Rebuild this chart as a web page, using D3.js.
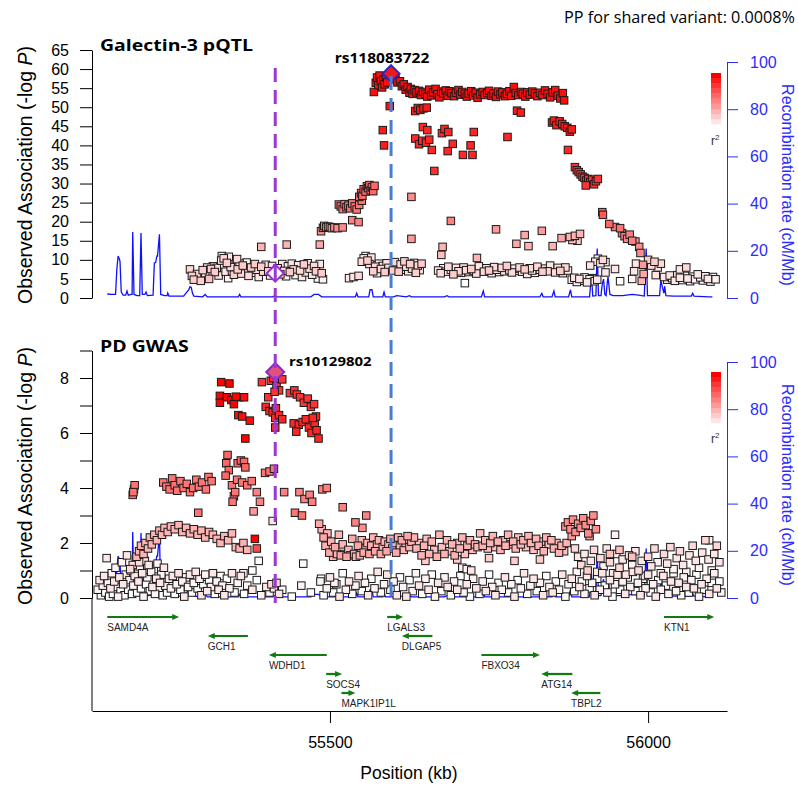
<!DOCTYPE html>
<html><head><meta charset="utf-8">
<script src="https://cdn.jsdelivr.net/npm/d3@7"></script>
<style>body{margin:0;background:#fff} svg{display:block}</style>
</head><body>
<svg id="c" width="798" height="787"></svg>
<script>
// ---------- data ----------
const xDomain = [55126, 56124];
const xTicks = [55500, 56000];
const pqtlTicks = [0,5,10,15,20,25,30,35,40,45,50,55,60,65];
const gwasTicks = [0,1,2,3,4,5,6,7,8,9];
const gwasTickLabels = [0,2,4,6,8];
const recTicks = [0,20,40,60,80,100];
const legendSteps = [0.1,0.2,0.3,0.4,0.5,0.6,0.7,0.8,0.9,1.0];

const pqtlTitle = "Galectin-3 pQTL";
const gwasTitle = "PD GWAS";
const ppText = "PP for shared variant: 0.0008%";
const pqtlLead = {name:"rs118083722", pos:55596, logp:58.8};
const gwasLead = {name:"rs10129802", pos:55414, logp:8.22};
const gwasLeadInPqtl = 6.5;

// recombination rate [kb, cM/Mb]
const recomb = [[55150,1.7],[55157,1.5],[55163,1.5],[55165,12],[55167,17.8],[55169,16.5],[55170,15.5],[55172,2.5],[55175,1.2],[55179,1.2],[55181,3],[55183,1.2],[55188,1.5],[55189,1.5],[55190,28],[55192,1.5],[55197,1],[55201,1],[55203,27.5],[55205,1.5],[55209,1.5],[55211,2.5],[55213,1],[55222,1.2],[55224,14.8],[55226,15],[55228,17.8],[55229,17.8],[55232,27],[55234,1.5],[55240,1],[55244,1],[55245,2.1],[55247,0.8],[55270,0.8],[55275,2.5],[55278,3.4],[55280,4.8],[55282,4.5],[55284,2],[55286,0.8],[55300,0.5],[55304,1.5],[55307,0.5],[55356,0.5],[55358,1.5],[55360,0.5],[55410,0.5],[55413,1],[55416,0.5],[55470,0.5],[55475,1.5],[55482,1.5],[55487,0.5],[55540,0.5],[55542,2],[55544,0.5],[55561,0.5],[55563,3.5],[55566,3.5],[55568,0.5],[55583,0.5],[55585,2.5],[55587,0.5],[55600,0.5],[55605,1],[55620,0.5],[55625,1],[55628,0.5],[55680,0.5],[55684,1],[55687,0.5],[55738,0.5],[55741,3],[55743,0.5],[55830,0.5],[55833,2],[55835,0.5],[55849,0.5],[55852,3],[55854,0.5],[55875,0.5],[55878,3.5],[55880,0.5],[55908,0.5],[55911,10],[55913,0.8],[55918,1],[55920,21],[55922,1],[55926,1],[55928,6],[55930,8],[55932,1.5],[55934,1],[55936,7],[55937,9],[55940,1.5],[55945,1],[55960,1],[55975,1.5],[55985,1.2],[55994,0.8],[55996,15],[55997,21],[55999,1],[56005,1],[56018,1],[56020,7.5],[56023,4],[56025,2],[56026,5],[56028,1],[56040,0.8],[56068,0.8],[56070,2],[56072,0.8],[56095,0.5],[56101,0.5]];

// Galectin-3 pQTL points [kb, -log10 P, r2]
const pqtlPoints = [
[55280,7.5,.15],[55283,5.8,.2],[55286,4.8,.2],[55291,6.3,.15],[55294,5.2,.1],[55297,4.5,.2],[55300,7.3,.2],[55304,6.5,.1],[55307,8.0,.15],[55310,5.0,.25],[55313,7.6,.2],[55316,8.3,.1],[55319,6.8,.2],[55322,7.9,.15],[55325,5.9,.1],[55329,9.8,.15],[55330,11.0,.1],[55332,8.6,.05],[55333,10.4,.15],[55336,6.9,.1],[55338,9.2,.2],[55340,5.2,.05],[55341,10.8,.1],[55344,8.1,.15],[55346,7.0,.1],[55347,9.9,.05],[55349,6.1,.2],[55352,8.8,.1],[55354,10.2,.15],[55355,7.5,.2],[55358,9.0,.1],[55360,6.4,.15],[55363,8.5,.2],[55366,7.2,.1],[55369,9.3,.05],[55372,5.8,.15],[55376,8.0,.2],[55379,6.6,.1],[55382,8.9,.2],[55385,7.4,.15],[55388,5.5,.1],[55392,8.2,.2],[55395,6.9,.15],[55399,8.7,.1],[55403,7.0,.2],[55406,5.9,.05],[55409,8.4,.1],[55418,7.8,.15],[55422,6.2,.2],[55425,8.9,.1],[55428,7.1,.15],[55431,5.7,.05],[55434,8.3,.1],[55437,6.8,.2],[55440,9.0,.1],[55443,7.5,.15],[55446,6.0,.05],[55450,8.6,.1],[55453,7.2,.15],[55456,5.5,.1],[55459,8.8,.2],[55462,6.7,.1],[55465,9.1,.05],[55468,7.7,.15],[55472,6.1,.1],[55475,8.4,.15],[55478,7.0,.2],[55481,5.1,.05],[55484,8.9,.1],[55487,6.5,.2],[55489,4.9,.05],
[55392,13.4,.3],[55432,14,.3],[55484,14,.35],
[55486,17.5,.45],[55489,18.4,.45],[55491,18.9,.45],[55494,18.5,.45],[55497,18.7,.45],[55500,18.6,.45],[55503,18.3,.45],[55507,18.5,.45],[55512,18.3,.45],[55520,18.5,.45],[55535,20.4,.5],[55545,19.9,.5],
[55514,24.5,.55],[55517,24.0,.55],[55520,23.3,.55],[55523,24.6,.55],[55526,23.8,.55],[55529,24.2,.55],[55532,23.5,.55],[55535,24.8,.55],[55539,24.0,.55],[55542,23.2,.55],[55546,24.4,.55],[55550,25.5,.55],
[55546,26.5,.6],[55549,27.5,.6],[55551,26.8,.6],[55553,28.5,.6],[55556,27.9,.6],[55558,29.3,.6],[55560,28.8,.6],[55562,29.6,.6],[55564,28.2,.6],[55566,29.0,.6],[55568,28.0,.6],[55570,29.4,.6],
[55569,54.0,.95],[55572,56.4,.95],[55574,57.8,.95],[55576,55.8,.95],[55578,58.3,.95],[55580,56.8,.95],[55582,55.2,.95],[55584,57.2,.95],[55586,56.0,.95],[55588,58.0,.95],[55590,56.5,.95],[55594,50.3,.95],[55583,44.0,.9],[55585,40.0,.9],
[55603,57.3,.95],[55606,56.5,.95],[55610,56.8,.95],[55613,55.5,.95],[55616,56.0,.95],[55619,54.6,.95],[55622,55.3,.95],[55625,53.8,.95],[55627,54.8,.95],[55630,53.5,.95],[55633,54.5,.95],[55636,53.9,.95],[55640,54.3,.95],[55643,53.2,.95],[55646,54.0,.95],[55650,53.5,.95],[55653,52.8,.95],[55656,54.6,.95],[55659,53.1,.95],[55662,53.9,.95],[55666,54.8,.95],[55669,53.4,.95],[55672,52.6,.95],[55675,54.1,.95],[55678,53.6,.95],[55682,54.4,.95],[55685,53.0,.95],[55688,54.2,.95],[55691,53.7,.95],[55695,52.9,.95],[55698,53.8,.95],[55702,54.5,.95],[55705,53.3,.95],[55708,54.0,.95],[55712,53.5,.95],[55715,52.8,.95],[55718,53.6,.95],[55722,54.2,.95],[55725,53.1,.95],[55729,53.8,.95],[55732,52.5,.95],[55736,53.4,.95],[55740,54.0,.95],[55743,53.2,.95],[55747,53.7,.95],[55750,54.3,.95],[55754,53.0,.95],[55757,53.6,.95],[55761,52.7,.95],[55764,54.1,.95],[55768,53.4,.95],[55771,53.9,.95],[55775,52.9,.95],[55778,53.5,.95],[55782,54.2,.95],[55785,53.0,.95],[55789,55.3,.95],[55792,53.7,.95],[55796,53.2,.95],[55800,54.0,.95],[55803,53.5,.95],[55807,52.8,.95],[55810,53.9,.95],[55814,53.3,.95],[55818,54.1,.95],[55822,53.6,.95],[55826,52.9,.95],[55830,53.8,.95],[55834,53.2,.95],[55838,54.4,.95],[55842,53.5,.95],[55846,52.6,.95],[55850,53.9,.95],[55854,54.5,.95],[55858,53.0,.95],[55862,52.3,.95],[55866,53.7,.95],[55868,51.8,.95],
[55634,49.0,.9],[55638,49.8,.9],[55642,49.3,.9],[55647,49.7,.9],[55652,49.9,.9],[55794,49.1,.9],[55800,48.6,.9],
[55849,46.0,.9],[55852,46.5,.9],[55856,45.3,.9],[55861,46.3,.9],[55865,45.6,.9],[55869,45.0,.9],[55873,44.6,.9],[55877,43.6,.9],[55880,44.2,.9],[55874,38.8,.85],
[55646,44.8,.85],[55653,44.0,.85],[55634,41.8,.85],[55640,40.3,.85],[55645,41.2,.85],[55651,40.7,.85],[55656,41.5,.85],[55660,38.8,.85],[55676,43.2,.85],[55680,44.3,.85],[55686,43.5,.85],[55693,40.4,.85],[55685,38.5,.85],[55709,37.5,.85],[55721,40.0,.85],[55726,43.5,.85],[55724,37.5,.85],[55779,42.2,.85],[55664,33.3,.8],
[55885,34.3,.8],[55888,33.5,.8],[55891,33.0,.8],[55894,32.4,.8],[55897,31.8,.8],[55900,31.5,.8],[55903,30.8,.8],[55906,31.2,.8],[55909,30.4,.8],[55912,31.0,.8],[55915,29.8,.8],[55918,30.6,.8],[55921,31.2,.8],[55902,29.5,.8],
[55628,26.5,.45],[55690,20.2,.5],[55761,18.0,.4],[55833,17.6,.4],[55628,15.5,.4],[55677,13.4,.3],[55675,11.3,.25],[55731,10.5,.3],[55793,14.2,.35],[55806,16.5,.35],[55812,13.6,.3],[55850,13.6,.3],[55864,15.7,.35],[55877,16.0,.3],[55881,15.2,.25],[55885,16.3,.3],[55889,15.0,.2],[55893,16.8,.3],
[55928,22.5,.65],[55929,21.8,.65],[55939,19.4,.6],[55948,18.6,.55],[55956,18.3,.55],[55959,17.0,.5],[55963,16.2,.5],[55967,15.5,.5],[55971,16.6,.5],[55975,15.0,.5],[55980,14.8,.45],[55986,13.4,.45],[55988,11.8,.45],[55992,8.7,.4],[55993,6.3,.35],[55990,4.5,.3],
[56000,10.0,.2],[56005,8.5,.15],[56010,9.5,.2],[56015,8.0,.1],[56020,9.0,.15],[56012,6.0,.1],
[55530,5.2,.1],[55537,5.5,.1],[55545,5.8,.15],[55550,9.5,.15],[55553,10.4,.1],[55556,11.0,.05],[55559,9.8,.2],[55562,8.9,.15],[55565,10.6,.1],[55568,7.0,.2],[55571,8.2,.15],[55574,6.5,.1],[55577,9.0,.05],[55580,7.6,.15],[55583,8.4,.1],[55586,6.8,.2],[55589,9.1,.1],[55592,7.9,.15],[55595,8.6,.05],[55599,7.2,.2],[55602,9.4,.15],[55605,8.0,.1],[55608,6.9,.2],[55611,8.8,.15],[55614,7.4,.1],[55617,9.6,.2],[55620,8.2,.15],[55623,7.0,.1],[55626,8.9,.2],[55629,7.7,.15],[55632,9.2,.1],[55635,6.6,.2],[55638,8.5,.15],[55641,7.3,.1],[55644,9.0,.2],
[55670,7.2,.1],[55674,6.5,.15],[55678,7.8,.05],[55682,6.9,.1],[55686,8.2,.15],[55690,7.4,.1],[55694,6.2,.2],[55698,7.9,.1],[55702,7.0,.15],[55706,6.6,.05],[55710,8.0,.1],[55714,7.3,.15],[55718,6.8,.1],[55722,7.6,.2],[55726,7.1,.1],[55730,6.4,.15],[55734,8.3,.1],[55738,7.5,.05],[55742,6.9,.15],[55746,7.8,.1],[55750,7.2,.2],[55754,6.5,.1],[55758,8.1,.15],[55762,7.4,.1],[55766,6.8,.05],[55770,7.9,.15],[55774,7.0,.1],[55778,8.4,.2],[55782,7.3,.1],[55786,6.7,.15],[55790,7.7,.1],[55794,7.1,.05],[55798,8.0,.15],[55802,6.9,.1],[55806,7.5,.2],[55810,6.3,.1],[55814,7.8,.15],[55818,7.2,.1],[55822,6.6,.05],[55826,8.2,.15],[55830,7.4,.1],[55834,6.9,.2],[55838,7.7,.1],[55842,7.0,.15],[55846,8.5,.1],[55850,7.3,.05],[55854,6.7,.15],[55858,7.9,.1],[55862,7.1,.2],[55866,6.5,.1],[55870,8.0,.15],[55874,7.2,.1],[55712,3.9,0],
[55880,4.8,.05],[55884,5.3,.1],[55888,4.2,.05],[55892,5.0,.1],[55896,4.5,0],[55900,5.4,.05],[55904,4.1,.1],[55908,4.9,.05],[55912,5.2,0],[55916,4.4,.05],[55920,4.8,.1],
[55917,9.5,.1],[55921,10.3,.05],[55925,9.1,.1],[55929,10.0,.15],[55933,9.4,.05],[55909,8.5,.1],[55933,6.7,.1],[55948,7.6,.1],[55956,4.4,0],[55975,5.0,.05],[55978,7.0,.1],[55981,9.0,.1],
[56025,5.5,.1],[56030,4.8,.05],[56034,5.9,.1],[56038,5.2,.05],[56042,4.5,.1],[56046,6.0,.05],[56050,5.3,.1],[56054,4.7,0],[56058,5.8,.05],[56062,5.1,.1],[56066,4.4,.05],[56070,5.6,0],[56074,4.9,.05],[56078,6.2,.1],[56082,5.4,.05],[56086,4.6,0],[56090,5.7,.05],[56094,5.0,.1],[56098,4.3,.05],[56102,5.5,0],[56106,4.9,.05],[56050,7.5,.1],[56060,8.0,.15]
];

// PD GWAS points [kb, -log10 P, r2]
const gwasPoints = [
[55329,7.85,1],[55342,7.8,1],[55327,7.35,1],[55327,7.1,1],[55338,7.3,1],[55345,7.2,1],[55349,7.05,1],[55352,7.32,1],[55358,7.3,.95],[55365,7.3,.95],[55356,6.65,.95],[55362,6.6,.95],[55374,6.45,.95],[55367,5.8,1],
[55393,7.85,.8],[55403,7.3,.8],[55407,7.9,.8],[55411,8.0,.8],[55416,7.7,.8],[55420,7.55,.8],[55425,7.95,.8],[55413,7.5,.8],
[55399,6.95,.85],[55405,6.8,.85],[55410,6.75,.85],[55415,6.9,.85],[55414,6.55,.85],[55420,6.65,.85],[55425,6.5,.85],[55414,6.2,.85],
[55437,7.45,.8],[55444,7.55,.8],[55448,7.4,.8],[55453,7.3,.8],[55459,7.1,.8],[55465,7.25,.8],[55470,6.95,.8],[55475,7.05,.8],
[55443,6.35,.85],[55451,6.3,.85],[55457,6.4,.85],[55447,6.05,.85],[55462,6.5,.85],[55467,6.2,.85],[55471,6.0,.85],[55476,6.35,.85],[55479,6.1,.85],[55482,5.8,.85],[55478,6.6,.85],[55473,6.55,.85],
[55190,3.75,.55],[55192,3.95,.55],[55193,4.1,.55],[55191,3.85,.55],
[55238,4.2,.55],[55243,4.05,.55],[55248,3.95,.55],[55252,4.35,.55],[55256,4.1,.55],[55260,3.9,.55],[55265,4.25,.55],[55270,4.0,.55],[55275,4.15,.55],[55280,3.85,.55],[55285,4.0,.55],[55290,4.3,.55],[55294,4.05,.55],[55299,4.2,.55],[55305,3.95,.55],[55309,4.4,.55],[55314,4.25,.55],
[55337,4.9,.6],[55339,5.2,.6],[55341,4.65,.6],[55336,4.45,.6],[55346,4.1,.55],[55349,3.7,.55],[55347,3.5,.55],[55351,3.85,.55],
[55355,4.9,.6],[55360,5.0,.6],[55365,4.95,.6],[55367,4.75,.6],[55354,4.3,.55],[55362,4.2,.55],[55370,4.1,.55],[55377,4.25,.55],
[55385,3.85,.5],[55390,3.5,.5],[55398,4.55,.55],[55405,4.6,.55],[55412,4.7,.55],
[55428,3.85,.5],[55452,3.85,.5],[55460,3.6,.5],[55468,3.75,.5],[55472,3.5,.5],[55488,3.95,.5],[55495,4.0,.5],
[55520,3.3,.5],[55445,3.1,.55],[55456,3.0,.55],[55380,3.15,.4],[55293,3.1,.55],[55410,2.8,.1],[55557,3.0,.5],[55540,2.75,.5],[55551,2.55,.45],
[55382,2.15,1],[55385,1.8,.7],
[55196,1.5,.3],[55200,1.7,.3],[55203,1.9,.3],[55207,1.6,.3],[55210,2.0,.3],[55214,1.8,.3],[55217,2.2,.3],[55220,1.95,.3],[55224,2.3,.3],[55228,2.1,.3],[55232,2.45,.3],[55236,2.3,.3],[55240,2.55,.3],[55245,2.4,.3],[55250,2.6,.3],[55256,2.5,.3],[55262,2.65,.3],[55268,2.4,.3],[55274,2.55,.3],[55280,2.35,.3],[55286,2.5,.3],[55292,2.3,.3],[55298,2.45,.3],[55304,2.2,.3],[55310,2.4,.3],[55316,2.3,.3],[55322,2.15,.3],[55328,2.0,.3],[55334,2.25,.3],[55340,2.1,.3],[55346,2.35,.3],[55352,1.85,.3],[55358,1.8,.3],[55364,2.0,.3],[55370,1.75,.3],
[55190,1.2,.15],[55186,1.05,.15],[55200,1.3,.15],
[55483,2.7,.35],[55487,2.5,.3],[55490,2.2,.35],[55493,1.9,.3],[55496,2.35,.3],[55499,1.65,.35],[55502,2.05,.3],[55505,1.5,.3],[55508,1.85,.35],[55511,1.6,.3],[55514,2.3,.3],[55517,1.55,.35],[55520,1.95,.3],[55523,1.6,.3],[55526,1.5,.35],[55529,1.75,.3],[55532,1.55,.3],[55535,2.15,.35],[55538,1.6,.3],[55541,1.5,.3],[55544,1.9,.35],[55547,1.55,.3],[55550,2.1,.3],[55553,1.65,.35],[55556,1.8,.3],[55559,2.0,.3],[55562,1.6,.35],[55565,1.9,.3],[55568,2.2,.3],[55571,1.7,.35],[55574,1.95,.3],[55577,2.1,.3],[55580,1.6,.35],[55583,1.85,.3],[55586,2.05,.3],[55589,1.7,.35],[55592,1.95,.3],[55595,2.15,.35],[55598,1.8,.3],[55601,2.0,.3],[55604,1.65,.35],[55607,2.2,.3],[55610,1.9,.3],[55613,2.1,.35],[55616,1.75,.3],[55619,2.0,.3],[55622,2.25,.35],[55625,1.85,.3],[55628,2.05,.3],
[55632,2.2,.3],[55636,1.8,.3],[55640,2.0,.25],[55644,1.55,.3],[55648,1.9,.3],[55652,2.15,.25],[55656,1.6,.3],[55660,2.05,.3],[55664,1.75,.25],[55668,1.5,.3],[55672,2.3,.3],[55676,1.85,.25],[55680,1.6,.3],[55684,2.1,.3],[55688,1.7,.25],[55692,1.95,.3],[55696,1.55,.3],[55700,2.0,.25],[55704,1.8,.3],[55708,2.2,.3],[55712,1.6,.25],[55716,1.9,.3],[55720,2.1,.3],[55724,1.75,.25],[55728,1.95,.3],[55732,1.85,.3],[55736,2.35,.25],[55740,1.9,.3],[55744,2.1,.3],[55748,1.8,.25],[55752,2.0,.3],[55756,2.25,.3],[55760,1.85,.25],[55764,2.05,.3],[55768,1.75,.3],[55772,2.1,.25],[55776,1.9,.3],[55780,2.3,.3],[55784,1.95,.25],[55788,2.05,.3],[55792,1.8,.3],[55796,2.2,.25],[55800,1.95,.3],[55804,2.1,.3],[55808,1.85,.25],[55812,2.25,.3],[55816,2.0,.3],[55820,1.75,.25],[55824,2.15,.3],[55828,1.9,.3],[55832,2.05,.25],[55836,1.7,.3],[55840,2.2,.3],[55844,1.95,.25],[55848,2.1,.3],[55852,1.8,.3],[55856,2.0,.25],[55860,1.65,.3],[55864,1.9,.3],[55868,1.7,.25],[55872,2.0,.3],
[55650,1.35,.2],[55700,1.4,.2],[55750,1.45,.2],[55790,1.35,.2],[55830,1.4,.2],[55708,1.1,.05],[55715,1.05,.05],[55722,1.0,.1],
[55870,2.6,.45],[55874,2.75,.45],[55878,2.5,.45],[55882,2.85,.45],[55886,2.4,.45],[55890,2.7,.45],[55894,2.55,.45],[55898,2.9,.45],[55902,2.65,.45],[55906,2.35,.45],[55910,2.8,.45],[55914,3.0,.45],[55918,2.5,.45],[55880,2.25,.4],[55908,2.25,.4],
[55885,1.8,.15],[55890,1.5,.1],[55895,1.2,.15],[55900,1.6,.1],[55905,1.0,.2],[55910,1.35,.1],[55915,1.75,.15],[55920,0.95,.1],[55925,1.45,.15],[55930,1.15,.05],[55935,1.8,.1],[55940,1.3,.15],[55945,0.9,.1],[55950,1.6,.05],[55955,1.1,.15],[55960,1.4,.1],[55965,0.85,.1],[55970,1.55,.15],[55975,1.2,.05],[55980,1.7,.1],[55985,1.0,.15],[55990,1.35,.1],[55995,0.8,.05],[56000,1.5,.15],[56005,1.15,.1],[56010,1.8,.15],[56015,1.3,.05],[56020,0.9,.1],[56025,1.6,.15],[56030,1.25,.1],[56035,1.85,.15],[56040,1.05,.05],[56045,1.45,.1],[56050,1.7,.15],[56055,1.2,.1],[56060,0.95,.05],[56065,1.55,.1],[56070,1.9,.15],[56075,1.35,.1],[56080,1.1,.05],[56085,1.65,.1],[56090,2.1,.15],[56095,1.4,.1],[56100,1.0,.05],[56104,1.6,.1],[56108,1.9,.15],[56112,1.3,.1],
[55948,2.3,.05],[56096,2.1,.05],[55940,1.6,.25],[55955,1.75,.25],[55975,1.5,.25],
[55135,0.3,.05],[55138,0.65,.1],[55140,0.1,0],[55143,0.45,.05],[55145,0.8,.1],[55147,0.2,0],[55149,1.45,.1],[55151,0.55,.05],[55153,0.05,0],[55155,0.35,.1],[55157,0.9,.05],[55159,0.15,0],[55161,0.6,.1],[55163,1.1,.05],[55165,0.4,0],[55167,0.05,.05],[55169,0.75,.1],[55171,0.25,0],[55173,1.3,.05],[55175,0.5,.1],[55177,0.1,0],[55179,0.85,.05],[55181,1.55,.1],[55183,0.3,0],[55185,0.65,.05],[55187,1.0,.1],[55189,0.15,0],[55191,0.45,.05],[55193,0.8,.1],[55195,1.4,.05],[55197,0.2,0],[55199,0.6,.1],[55201,1.15,.05],[55203,0.35,0],[55205,0.9,.1],[55207,0.05,.05],[55209,1.35,.1],[55211,0.5,0],[55213,0.75,.05],[55215,1.2,.1],[55217,0.25,0],[55219,0.95,.05],[55221,0.4,.1],[55223,1.05,0],[55225,0.15,.05],[55227,0.7,.1],[55229,1.25,.05],[55231,0.3,0],[55233,0.55,.1],[55235,0.85,.05],[55237,0.1,0],[55239,1.1,.1],[55241,0.45,.05],[55244,0.2,0],[55247,0.7,.1],[55250,0.35,.05],
[55253,0.8,.1],[55256,0.15,0],[55259,0.5,.05],[55262,0.9,.1],[55265,0.3,0],[55268,0.6,.05],[55271,0.05,.1],[55274,0.75,0],[55277,0.4,.05],[55280,0.85,.1],[55283,0.2,0],[55286,0.55,.05],[55289,0.95,.1],[55292,0.35,0],[55295,0.7,.05],[55298,0.1,.1],[55301,0.5,0],[55304,0.85,.05],[55307,0.25,.1],[55310,0.65,0],[55313,0.4,.05],[55316,0.9,.1],[55319,0.15,0],[55322,0.6,.05],[55325,0.3,.1],[55328,0.8,0],[55331,0.45,.05],[55334,0.1,.1],[55338,0.7,0],[55342,0.35,.05],[55346,0.9,.1],[55350,0.2,0],[55355,0.55,.05],[55360,0.8,.1],[55365,0.15,0],[55370,0.45,.05],[55378,0.3,.1],[55385,0.65,0],[55392,0.1,.05],[55400,0.4,.1],[55405,0.2,0],[55408,0.5,.15],[55412,0.35,.1],[55416,0.55,.15],[55420,0.15,.1],[55425,0.3,0],[55440,0.05,0],[55455,0.45,.05],[55470,0.2,0],[55485,0.6,.05],[55490,0.1,0],[55495,0.35,.05],[55500,0.75,.1],[55505,0.2,0],[55510,0.5,.05],[55515,0.05,.1],[55520,0.9,0],[55525,0.3,.05],[55530,0.6,.1],[55535,0.15,0],[55540,0.45,.05],[55545,0.8,.1],[55550,0.25,0],[55555,0.55,.05],[55560,0.1,.1],[55565,0.7,0],[55570,0.35,.05],[55575,0.95,.1],[55580,0.2,0],[55585,0.5,.05],[55590,0.85,.1],[55595,0.3,0],[55600,0.6,.05],[55605,0.1,.1],[55610,0.75,0],[55615,0.4,.05],[55620,0.05,.1],[55625,0.65,0],[55630,0.25,.05],
[55458,1.25,0],[55486,0.7,0],[55507,0.55,.05],[55364,0.9,.05],[55378,1.0,0],[55388,1.35,0],
[55635,0.9,.05],[55640,0.45,.1],[55645,0.15,0],[55650,0.7,.05],[55655,0.3,.1],[55660,0.85,0],[55665,0.05,.05],[55670,0.55,.1],[55675,0.25,0],[55680,0.75,.05],[55685,0.4,.1],[55690,0.1,0],[55695,0.6,.05],[55700,0.3,.1],[55705,0.8,0],[55710,0.2,.05],[55715,0.5,.1],[55720,0.05,0],[55725,0.7,.05],[55730,0.35,.1],[55735,0.15,0],[55740,0.6,.05],[55745,0.25,.1],[55750,0.85,0],[55755,0.4,.05],[55760,0.1,.1],[55765,0.55,0],[55770,0.3,.05],[55775,0.75,.1],[55780,0.2,0],[55785,0.5,.05],[55790,0.05,.1],[55795,0.65,0],[55800,0.35,.05],[55805,0.9,.1],[55810,0.15,0],[55815,0.45,.05],[55820,0.7,.1],[55825,0.25,0],[55830,0.55,.05],[55835,0.1,.1],[55840,0.8,0],[55845,0.4,.05],[55850,0.2,.1],[55855,0.6,0],[55860,0.3,.05],[55865,0.85,.1],[55870,0.05,0],[55875,0.5,.05],[55880,0.7,.1],[55884,0.25,0],[55888,0.95,.05],[55892,0.4,.1],[55896,0.6,0],[55900,0.15,.05],[55904,0.8,.1],[55908,0.35,0],[55912,0.55,.05],[55916,0.1,.1],[55920,0.7,0],[55924,0.3,.05],[55928,0.9,.1],[55932,0.45,0],[55936,0.2,.05],[55940,0.65,.1],[55944,0.05,0],[55948,0.5,.05],[55952,0.85,.1],[55956,0.3,0],[55960,0.6,.05],[55964,0.15,.1],[55968,0.75,0],[55972,0.4,.05],[55976,0.95,.1],[55980,0.25,0],[55984,0.55,.05],[55988,0.1,.1],[55992,0.7,0],[55996,0.35,.05],[56000,0.85,.1],[56004,0.2,0],[56008,0.5,.05],[56012,0.05,.1],[56016,0.65,0],[56020,0.3,.05],[56024,0.8,.1],[56028,0.45,0],[56032,0.15,.05],[56036,0.6,.1],[56040,0.9,0],[56044,0.25,.05],[56048,0.55,.1],[56052,0.1,0],[56056,0.75,.05],[56060,0.4,.1],[56064,0.2,0],[56068,0.65,.05],[56072,0.35,.1],[56076,0.85,0],[56080,0.05,.05],[56084,0.5,.1],[56088,0.3,0],[56092,0.7,.05],[56096,0.15,.1],[56100,0.55,0],[56104,0.9,.05],[56108,0.35,.1],[56112,0.6,0],[56115,0.2,.05]
];

// genes: name, start kb, end kb, strand, row
const geneNames  = ["SAMD4A","GCH1","WDHD1","SOCS4","MAPK1IP1L","LGALS3","DLGAP5","FBXO34","ATG14","TBPL2","KTN1"];
const geneStart  = [55150,55308,55404,55494,55518,55590,55613,55738,55832,55879,56025];
const geneEnd    = [55263,55371,55495,55519,55540,55615,55661,55830,55881,55925,56104];
const geneStrand = ["+","-","-","+","+","+","-","+","-","-","+"];
const geneRow    = [0,1,2,3,4,0,1,2,3,4,0];

// ---------- drawing ----------
const svg = d3.select("#c");
const x = d3.scaleLinear().domain(xDomain).range([92,727]);
const yTop = d3.scaleLinear().domain([0,65]).range([298,50]);
const recTop = d3.scaleLinear().domain([0,100]).range([298,62]);
const yBot = d3.scaleLinear().domain([0,9]).range([598,350.5]);
const recBot = d3.scaleLinear().domain([0,100]).range([598,362]);
const color = d3.scaleLinear().domain([0,1]).range(["#ffffff","#ff0000"]);
const BLUE = "#2b2bff";
const TICKFONT = "'Liberation Sans', Arial, sans-serif";
const TITLEFONT = "'Open Sans', sans-serif";
const SQ = 7.5;

function styleAxis(g, col){
  g.selectAll("text").attr("font-family",TICKFONT).attr("font-size",16).attr("fill",col);
  g.selectAll("line").attr("stroke",col);
  g.select(".domain").attr("stroke",col);
}

function panel(points, yS, recS, ticks, tickFmt, legendTop, r2y){
  svg.append("path").datum(recomb)
    .attr("d", d3.line().x(d=>x(d[0])).y(d=>recS(d[1])))
    .attr("fill","none").attr("stroke","#1010ff").attr("stroke-width",1.3);
  const sorted = points.slice().sort((a,b)=>a[2]-b[2]);
  svg.append("g").selectAll("rect").data(sorted).join("rect")
    .attr("x",d=>x(d[0])-SQ/2).attr("y",d=>yS(d[1])-SQ/2)
    .attr("width",SQ).attr("height",SQ)
    .attr("fill",d=>color(d[2])).attr("stroke","#1a1a1a").attr("stroke-width",1);
  const gl = svg.append("g").attr("transform","translate(92,0)")
    .call(d3.axisLeft(yS).tickValues(ticks).tickFormat(tickFmt).tickSize(12).tickPadding(11).tickSizeOuter(0));
  styleAxis(gl,"#000");
  const gr = svg.append("g").attr("transform","translate(727,0)")
    .call(d3.axisRight(recS).tickValues(recTicks).tickSize(11).tickPadding(12).tickSizeOuter(0));
  styleAxis(gr,BLUE);
  const lh = 51/legendSteps.length;
  svg.append("g").selectAll("rect").data(legendSteps).join("rect")
    .attr("x",711).attr("width",10)
    .attr("y",(d,i)=>legendTop+51-(i+1)*lh).attr("height",lh+0.3)
    .attr("fill",d=>color(d));
  const rt = svg.append("text").attr("x",711).attr("y",r2y)
    .attr("font-family",TICKFONT).attr("font-size",12).attr("fill","#333").text("r");
  rt.append("tspan").attr("font-size",8).attr("dy",-5).text("2");
}

panel(pqtlPoints, yTop, recTop, pqtlTicks, d=>d, 73, 145);
panel(gwasPoints, yBot, recBot, gwasTicks, d=>gwasTickLabels.includes(d)?d:"", 372, 443);

function yTitle(cx, cy, size){
  const t = svg.append("text").attr("transform",`translate(${cx},${cy}) rotate(-90)`)
    .attr("text-anchor","middle").attr("dominant-baseline","central")
    .attr("font-family",TICKFONT).attr("font-size",size).attr("fill","#000");
  t.append("tspan").text("Observed Association (-log ");
  t.append("tspan").attr("font-style","italic").text("P");
  t.append("tspan").text(")");
}
yTitle(25,175,19.5);
yTitle(25,476,19.5);
function rTitle(cx, cy){
  svg.append("text").attr("transform",`translate(${cx},${cy}) rotate(90)`)
    .attr("text-anchor","middle").attr("dominant-baseline","central")
    .attr("font-family",TICKFONT).attr("font-size",16).attr("fill",BLUE)
    .text("Recombination rate (cM/Mb)");
}
rTitle(787,185);
rTitle(787,485);

// panel titles (slightly widened, as in the reference)
function boldTitle(tx, ty, size, sx, txt, anchor){
  svg.append("text").attr("transform",`translate(${tx},${ty}) scale(${sx},1)`)
    .attr("text-anchor",anchor||"start")
    .attr("font-family",TITLEFONT).attr("font-weight","bold").attr("font-size",size).text(txt);
}
boldTitle(100,51,16.5,1.18,pqtlTitle);
boldTitle(100,352,16.5,1.18,gwasTitle);
svg.append("text").attr("x",795).attr("y",23).attr("text-anchor","end").attr("font-family",TITLEFONT)
  .attr("font-size",16.2).text(ppText);

function diamond(cx, cy, r, fill, stroke){
  svg.append("path").attr("d",`M${cx},${cy-r}L${cx+r},${cy}L${cx},${cy+r}L${cx-r},${cy}Z`)
    .attr("fill",fill).attr("stroke",stroke).attr("stroke-width",2);
}
diamond(x(pqtlLead.pos), yTop(pqtlLead.logp), 8.5, "#f01818", "#2626c8");
diamond(x(gwasLead.pos), yTop(gwasLeadInPqtl), 8.5, "#ffffff", "#9a30d0");
diamond(x(gwasLead.pos), yBot(gwasLead.logp), 9, "#e4507c", "#8a2ac0");

svg.append("line").attr("x1",x(gwasLead.pos)).attr("x2",x(gwasLead.pos)).attr("y1",68).attr("y2",603)
  .attr("stroke","#9a3ad2").attr("stroke-width",3).attr("stroke-dasharray","14,8");
svg.append("line").attr("x1",x(pqtlLead.pos)).attr("x2",x(pqtlLead.pos)).attr("y1",76).attr("y2",603)
  .attr("stroke","#4a7cd2").attr("stroke-width",3).attr("stroke-dasharray","14,8");

boldTitle(382,63,13.5,1.15,pqtlLead.name,"middle");
boldTitle(289,366,13,1.15,gwasLead.name);

// gene track
const rowY = [617,636,655,674,693];
const GREEN = "#137a13";
const gg = svg.append("g");
geneNames.forEach((name,i)=>{
  const x1 = x(geneStart[i]), x2 = x(geneEnd[i]), y = rowY[geneRow[i]];
  const tip = geneStrand[i]==="+" ? x2 : x1;
  const dir = geneStrand[i]==="+" ? 1 : -1;
  gg.append("line").attr("x1",geneStrand[i]==="+"?x1:x1+5).attr("x2",geneStrand[i]==="+"?x2-5:x2)
    .attr("y1",y).attr("y2",y).attr("stroke",GREEN).attr("stroke-width",2.2);
  gg.append("path").attr("d",`M${tip},${y}L${tip-dir*7},${y-3}L${tip-dir*7},${y+3}Z`).attr("fill",GREEN);
  gg.append("text").attr("x",x1).attr("y",y+14).attr("font-family",TICKFONT).attr("font-size",10)
    .attr("fill","#222").text(name);
});

svg.append("line").attr("x1",92).attr("x2",92).attr("y1",598).attr("y2",711).attr("stroke","#000");
const gx = svg.append("g").attr("transform","translate(0,711)")
  .call(d3.axisBottom(x).tickValues(xTicks).tickFormat(d3.format("d")).tickSize(12).tickPadding(14).tickSizeOuter(0));
styleAxis(gx,"#000");
svg.append("text").attr("x",409).attr("y",779).attr("text-anchor","middle")
  .attr("font-family",TICKFONT).attr("font-size",17.5).text("Position (kb)");
</script>
</body></html>
